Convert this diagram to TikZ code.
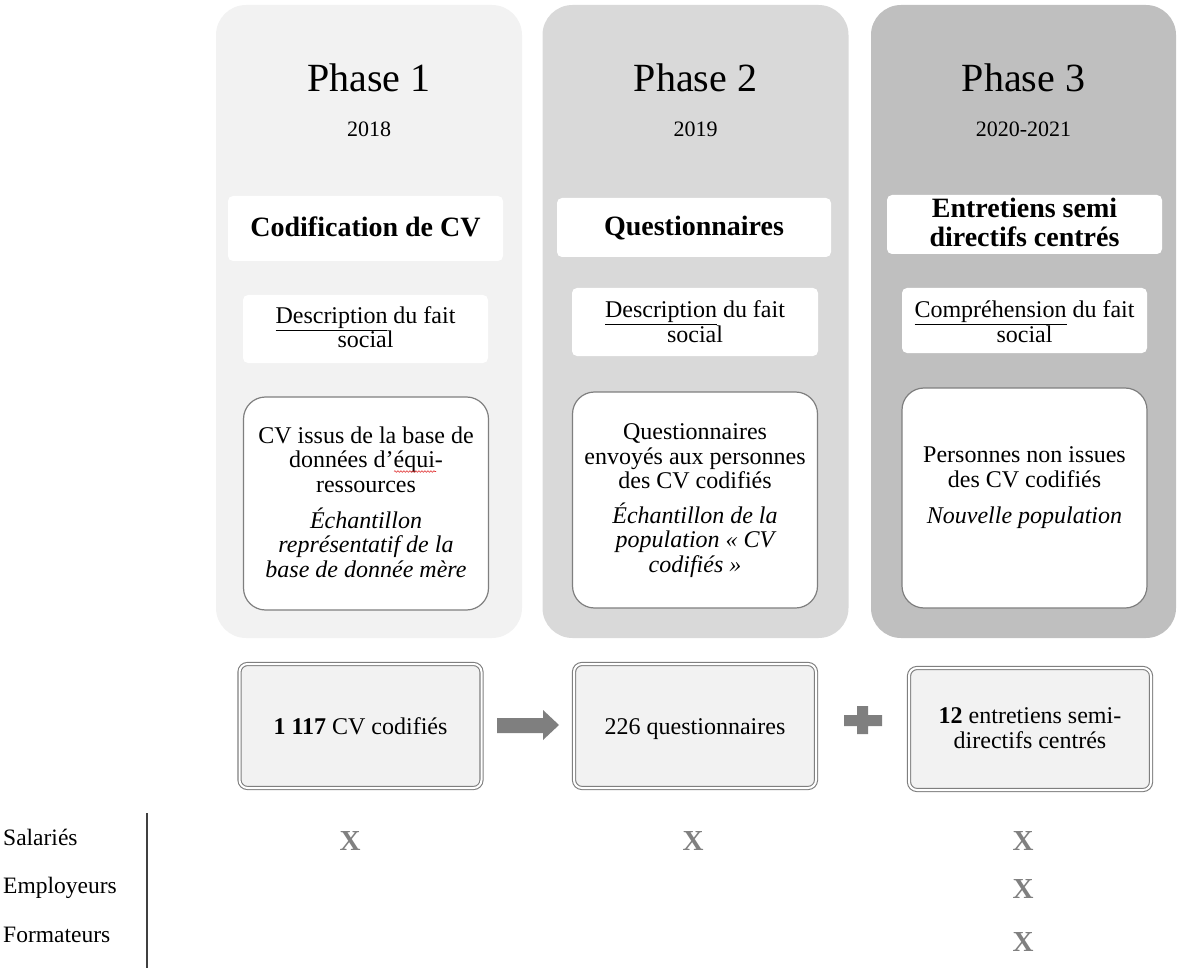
\documentclass[tikz,border=0pt]{standalone}
\usepackage{fontspec}
\setmainfont{Liberation Serif}
\usetikzlibrary{decorations.pathmorphing}
\definecolor{pone}{HTML}{F2F2F2}
\definecolor{ptwo}{HTML}{D9D9D9}
\definecolor{pthree}{HTML}{BFBFBF}
\definecolor{boxline}{HTML}{7F7F7F}
\definecolor{markgray}{HTML}{808080}
\definecolor{spellred}{HTML}{E03030}
\tikzset{
  panel/.style={rounded corners=30pt, inner sep=0pt, minimum width=306pt, minimum height=633pt},
  wbox/.style={fill=white, rounded corners=5pt, inner sep=0pt},
  rbox/.style={fill=white, draw=boxline, line width=1.2pt, rounded corners=22pt, inner sep=0pt, minimum width=245pt},
  bbox/.style={fill=pone, draw=boxline, double=white, double distance=2pt, line width=1.1pt, rounded corners=8pt, inner sep=0pt, minimum width=242pt, minimum height=124pt},
  txt/.style={anchor=base, align=center, inner sep=0pt, font=\fontsize{24}{24.5}\selectfont},
  ttl/.style={txt, font=\fontsize{40}{48}\selectfont},
  yr/.style={txt, font=\fontsize{22}{26}\selectfont},
  meth/.style={txt, font=\fontsize{28}{29}\selectfont\bfseries},
  lbl/.style={anchor=base west, inner sep=0pt, font=\fontsize{23.5}{26}\selectfont},
  xmark/.style={anchor=base, inner sep=0pt, text=markgray, font=\fontsize{29}{30}\selectfont\bfseries},
  blockfill/.style={fill=boxline, draw=none},
  squiggle/.style={draw=spellred, line width=0.6pt, decorate, decoration={snake, amplitude=0.8pt, segment length=3pt}}
}
\begin{document}
\begin{tikzpicture}[x=1pt,y=-1pt]
\useasboundingbox (0,0) rectangle (1178,968);

% panels
\node[panel, fill=pone] (p1) at (369,321.5) {};
\node[panel, fill=ptwo] (p2) at (695.5,321.5) {};
\node[panel, fill=pthree, minimum width=305pt] (p3) at (1023.5,321.5) {};

% titles and years
\node[ttl] (t1) at (369,92) {Phase 1};
\node[ttl] (t2) at (695.5,92) {Phase 2};
\node[ttl] (t3) at (1023.5,92) {Phase 3};
\node[yr] (y1) at (369,137) {2018};
\node[yr] (y2) at (695.5,137) {2019};
\node[yr] (y3) at (1023.5,137) {2020-2021};

% method boxes (multi-line text nodes: base = baseline of last line)
\node[wbox, minimum width=275pt, minimum height=65pt] (m1) at (365.5,228.5) {};
\node[wbox, minimum width=274pt, minimum height=59pt] (m2) at (694,227.5) {};
\node[wbox, minimum width=275pt, minimum height=59pt] (m3) at (1024.5,224.5) {};
\node[meth] (mt1) at (365.5,237) {Codification de CV};
\node[meth] (mt2) at (694,236) {Questionnaires};
\node[meth] (mt3) at (1024.5,247) {Entretiens semi\\directifs centrés};

% description boxes
\node[wbox, minimum width=245pt, minimum height=68pt] (d1) at (365.5,329) {};
\node[wbox, minimum width=246pt, minimum height=68pt] (d2) at (695,322) {};
\node[wbox, minimum width=245pt, minimum height=65pt] (d3) at (1024.5,320.5) {};
\node[txt] (dt1) at (365.5,348) {\underline{Description} du fait\\social};
\node[txt] (dt2) at (695,342) {\underline{Description} du fait\\social};
\node[txt] (dt3) at (1024.5,342) {\underline{Compréhension} du fait\\social};

% rounded content boxes
\node[rbox, minimum height=213pt] (r1) at (366,503.5) {};
\node[rbox, minimum height=216pt] (r2) at (695,500) {};
\node[rbox, minimum height=220pt] (r3) at (1024.5,498) {};
\node[txt] (rt1) at (366,577) {CV issus de la base de\\données d’équi-\\ressources\\[11.5pt]\itshape Échantillon\\\itshape représentatif de la\\\itshape base de donnée mère};
\node[txt] (rt2) at (695,572) {Questionnaires\\envoyés aux personnes\\des CV codifiés\\[10pt]\itshape Échantillon de la\\\itshape population « CV\\\itshape codifiés »};
\node[txt] (rt3) at (1024.5,523) {Personnes non issues\\des CV codifiés\\[11.5pt]\itshape Nouvelle population};
% spell-check underline under "équi"
\coordinate (sqa) at (394,471.5);
\coordinate (sqb) at (436,471.5);
\path[squiggle] (sqa) -- (sqb);

% bottom boxes
\node[bbox] (b1) at (360.5,726) {};
\node[bbox] (b2) at (695,726) {};
\node[bbox, minimum height=122pt] (b3) at (1030,729) {};
\node[txt] (bt1) at (360.5,734) {\textbf{1 117} CV codifiés};
\node[txt] (bt2) at (695,734) {226 questionnaires};
\node[txt] (bt3) at (1030,748) {\textbf{12} entretiens semi-\\directifs centrés};

% block arrow between b1 and b2
\path[blockfill] (497,718) -- (543,718) -- (543,710) -- (559,725) -- (543,740) -- (543,733) -- (497,733) -- cycle;
% plus sign between b2 and b3
\path[blockfill] (857,706) -- (868,706) -- (868,715) -- (882,715) -- (882,726) -- (868,726) -- (868,734) -- (857,734) -- (857,726) -- (844,726) -- (844,715) -- (857,715) -- cycle;

% row labels
\node[lbl] (l1) at (3,845) {Salariés};
\node[lbl] (l2) at (3,893) {Employeurs};
\node[lbl] (l3) at (3,942) {Formateurs};
\coordinate (vt) at (147,813);
\coordinate (vb) at (147,968);
\draw[line width=1.8pt, draw=black!75] (vt) -- (vb);

% marks
\node[xmark] (x1) at (350,850) {X};
\node[xmark] (x2) at (693,850) {X};
\node[xmark] (x3) at (1023,850) {X};
\node[xmark] (x4) at (1023,898) {X};
\node[xmark] (x5) at (1023,951) {X};
\end{tikzpicture}
\end{document}
